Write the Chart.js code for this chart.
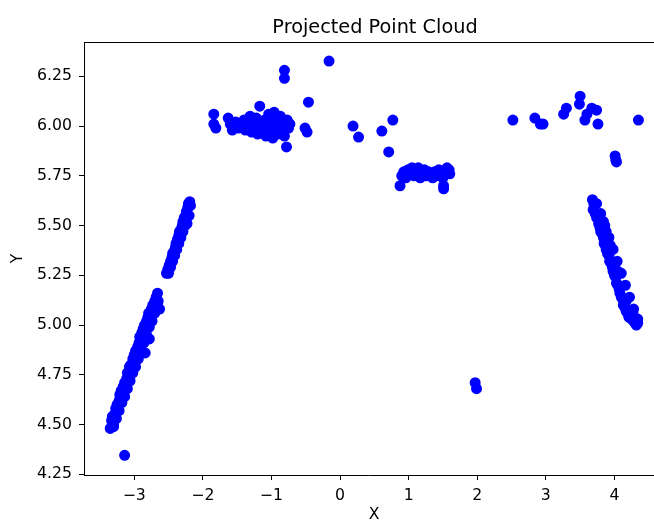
<!DOCTYPE html>
<html>
<head>
<meta charset="utf-8">
<script src="https://cdn.jsdelivr.net/npm/chart.js@4"></script>
<style>
  html, body { margin: 0; padding: 0; background: #fff; overflow: hidden; }
  canvas { display: block; }
</style>
</head>
<body>
<canvas id="cloud" width="654" height="522"></canvas>
<script>
// points, grouped by cluster
var leftLower = [
  [-3.35,4.48],[-3.33,4.52],[-3.32,4.54],[-3.30,4.50],[-3.29,4.55],[-3.27,4.58],[-3.25,4.60],
  [-3.24,4.57],[-3.22,4.62],[-3.21,4.65],[-3.19,4.67],[-3.18,4.64],[-3.16,4.69],[-3.14,4.71],
  [-3.13,4.68],[-3.11,4.73],[-3.10,4.76],[-3.08,4.74],[-3.07,4.79],[-3.05,4.80],[-3.03,4.78],
  [-3.02,4.83],[-3.00,4.85],[-2.98,4.87],[-2.97,4.84],[-2.95,4.89],[-2.93,4.91],[-2.92,4.94],
  [-2.90,4.92],[-2.89,4.96],[-2.87,4.98],[-2.85,5.00],[-2.84,4.97],[-2.84,4.86],[-2.82,5.02],
  [-2.80,5.04],[-2.78,4.93],[-2.79,5.06],[-2.77,5.03],[-2.75,5.08],[-2.73,5.10],[-2.71,5.07],
  [-2.70,5.12],[-2.68,5.14],[-2.66,5.16],[-2.65,5.12],[-2.63,5.08],
  [-3.30,4.49],[-3.26,4.53],[-3.22,4.57],[-3.18,4.61],[-3.14,4.64],[-3.10,4.68],[-3.06,4.72],
  [-3.02,4.76],[-2.98,4.79],[-2.94,4.83],[-2.90,4.87],[-2.86,4.91],[-2.82,4.95],[-2.78,4.99],
  [-2.74,5.02],[-2.70,5.06],[-2.66,5.10]
];
var leftUpper = [
  [-2.53,5.26],[-2.51,5.28],[-2.49,5.30],[-2.47,5.32],[-2.45,5.34],[-2.44,5.36],[-2.42,5.37],
  [-2.40,5.39],[-2.39,5.41],[-2.37,5.43],[-2.35,5.45],[-2.34,5.47],[-2.32,5.48],[-2.30,5.50],
  [-2.29,5.52],[-2.27,5.54],[-2.25,5.55],[-2.24,5.57],[-2.22,5.59],[-2.21,5.61],[-2.19,5.62],
  [-2.18,5.60],[-2.20,5.55],[-2.23,5.51],
  [-2.50,5.26],[-2.47,5.29],[-2.44,5.32],[-2.41,5.35],[-2.38,5.38],[-2.35,5.41],[-2.32,5.44],
  [-2.29,5.47],[-2.26,5.50]
];
var leftOutlier = [[-3.14,4.345]];
var topLeft = [
  [-1.84,6.06],[-1.84,6.01],[-1.81,5.99],[-1.63,6.04],[-1.60,6.01],[-1.57,5.98],[-1.52,6.02],
  [-1.48,5.99],[-1.45,6.00],[-1.40,6.03],[-1.38,5.98],[-1.35,6.01],[-1.31,6.05],[-1.29,5.97],
  [-1.27,6.02],[-1.24,5.99],[-1.22,6.04],[-1.20,5.96],[-1.17,6.10],[-1.16,6.01],[-1.13,5.98],
  [-1.10,6.03],[-1.08,5.95],[-1.06,6.00],[-1.04,6.06],[-1.02,5.97],[-1.00,6.02],[-0.98,5.94],
  [-0.96,6.07],[-0.95,5.99],[-0.93,6.03],[-0.91,5.96],[-0.89,6.01],[-0.87,6.05],[-0.85,5.98],
  [-0.83,6.02],[-0.81,5.95],[-0.79,6.00],[-0.77,6.03],[-0.75,5.99],[-0.73,6.01],
  [-0.81,6.28],[-0.81,6.24],[-0.78,5.895],[-0.46,6.12],[-0.51,5.99],[-0.48,5.97],[-0.16,6.327]
];
var middleScatter = [[0.19,6.00],[0.27,5.945],[0.61,5.975],[0.77,6.03],[0.71,5.87]];
var middleBand = [
  [0.90,5.75],[0.93,5.77],[0.96,5.74],[0.99,5.78],[1.02,5.76],[1.05,5.79],[1.08,5.75],
  [1.11,5.77],[1.14,5.79],[1.17,5.74],[1.20,5.76],[1.23,5.78],[1.26,5.75],[1.29,5.77],
  [1.32,5.76],[1.35,5.74],[1.38,5.77],[1.41,5.75],[1.44,5.78],[1.47,5.76],[1.50,5.74],
  [1.53,5.77],[1.56,5.79],[1.59,5.78],[1.60,5.76],[0.875,5.70],[1.51,5.685],[1.51,5.70]
];
var nearTwo = [[1.97,4.71],[1.99,4.68]];
var topRight = [
  [2.52,6.03],[2.84,6.04],[2.92,6.01],[2.96,6.01],[3.26,6.06],[3.30,6.09],[3.50,6.15],
  [3.49,6.11],[3.57,6.03],[3.60,6.06],[3.67,6.09],[3.74,6.08],[3.76,6.01],[4.35,6.03],
  [4.01,5.85],[4.02,5.83],[4.03,5.82]
];
var rightLine = [
  [3.68,5.63],[3.70,5.61],[3.69,5.58],[3.71,5.60],[3.72,5.56],[3.74,5.54],[3.76,5.55],
  [3.77,5.51],[3.79,5.49],[3.80,5.47],[3.82,5.46],[3.84,5.44],[3.85,5.41],[3.87,5.40],
  [3.88,5.38],[3.90,5.36],[3.92,5.35],[3.93,5.32],[3.95,5.31],[3.97,5.29],[3.98,5.27],
  [4.00,5.25],[4.02,5.24],[4.03,5.21],[4.05,5.20],[4.07,5.18],[4.08,5.16],[4.10,5.14],
  [4.12,5.13],[4.13,5.10],[4.15,5.09],[4.17,5.07],[4.19,5.06],[4.21,5.04],[4.23,5.05],
  [4.25,5.03],[4.28,5.02],[4.30,5.01],[4.32,5.00],[4.34,5.01],[3.84,5.52],[3.94,5.40],
  [4.05,5.27],[3.88,5.47],[4.17,5.12],[4.27,5.06],
  [3.74,5.61],[3.80,5.56],[3.86,5.50],[3.92,5.44],[3.98,5.38],[4.04,5.32],[4.10,5.26],
  [4.16,5.20],[4.22,5.14],[4.28,5.08],[4.34,5.03]
];

var xTicks = [-3, -2, -1, 0, 1, 2, 3, 4];
var yTicks = [4.25, 4.5, 4.75, 5.0, 5.25, 5.5, 5.75, 6.0, 6.25];

var allPoints = [].concat(leftLower, leftUpper, leftOutlier, topLeft, middleScatter,
  middleBand, nearTwo, topRight, rightLine);

var FONT = '"DejaVu Sans", sans-serif';

// draws the title, axis names and the top frame line, matplotlib style
var frame = {
  id: 'frame',
  afterDraw: function(chart) {
    var ctx = chart.ctx, a = chart.chartArea;
    ctx.save();
    ctx.strokeStyle = '#000';
    ctx.lineWidth = 1;
    ctx.beginPath();
    ctx.moveTo(a.left, a.top + 0.5);
    ctx.lineTo(a.right, a.top + 0.5);
    ctx.stroke();

    ctx.fillStyle = '#000';
    ctx.textAlign = 'center';
    ctx.textBaseline = 'alphabetic';
    ctx.font = '19.3px ' + FONT;
    ctx.fillText('Projected Point Cloud', 375, 32.5);

    ctx.font = '15.7px ' + FONT;
    ctx.textBaseline = 'middle';
    ctx.fillText('X', 374, 515);
    ctx.translate(18, 258.5);
    ctx.rotate(-Math.PI / 2);
    ctx.fillText('Y', 0, 0);
    ctx.restore();
  }
};

new Chart('cloud', {
  type: 'scatter',
  data: {
    datasets: [{
      data: allPoints.map(function(p) { return {x: p[0], y: p[1]}; }),
      backgroundColor: '#0000ff',
      borderColor: '#0000ff',
      pointRadius: 4.7,
      pointBorderWidth: 1.6,
      pointHoverRadius: 4.7
    }]
  },
  options: {
    responsive: false,
    devicePixelRatio: 1,
    animation: false,
    layout: { autoPadding: false, padding: { top: 42, right: 0, left: 0, bottom: 0 } },
    plugins: { legend: { display: false }, tooltip: { enabled: false } },
    scales: {
      x: {
        type: 'linear',
        min: -3.732,
        max: 4.577,
        afterFit: function(s) { s.height = 47; },
        afterBuildTicks: function(s) { s.ticks = xTicks.map(function(v) { return {value: v}; }); },
        grid: { drawOnChartArea: false, drawTicks: true, tickLength: 5, tickColor: '#000' },
        border: { display: true, color: '#000', width: 1 },
        ticks: {
          color: '#000', padding: 7, maxRotation: 0, autoSkip: false,
          font: { family: FONT, size: 15.7 },
          callback: function(v) { return String(v).replace('-', '\u2212'); }
        }
      },
      y: {
        type: 'linear',
        min: 4.2462,
        max: 6.4226,
        afterFit: function(s) { s.width = 84; },
        afterBuildTicks: function(s) { s.ticks = yTicks.map(function(v) { return {value: v}; }); },
        grid: { drawOnChartArea: false, drawTicks: true, tickLength: 5, tickColor: '#000' },
        border: { display: true, color: '#000', width: 1 },
        ticks: {
          color: '#000', padding: 7, autoSkip: false,
          font: { family: FONT, size: 15.7 },
          callback: function(v) { return v.toFixed(2); }
        }
      }
    }
  },
  plugins: [frame]
});
</script>
</body>
</html>
